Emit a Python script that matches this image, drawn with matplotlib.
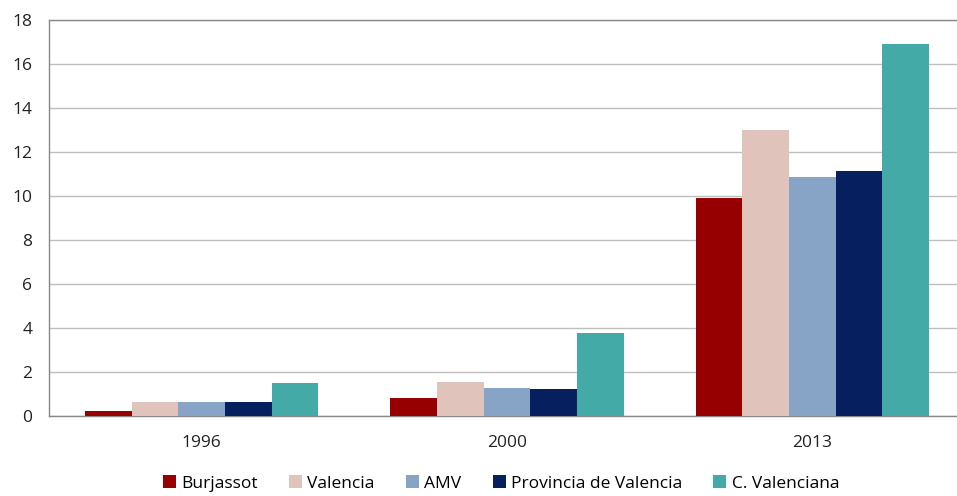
import numpy as np
import matplotlib.pyplot as plt

years = ["1996", "2000", "2013"]
series = ["Burjassot", "Valencia", "AMV", "Provincia de Valencia", "C. Valenciana"]
burjassot = [0.23, 0.82, 9.92]
valencia = [0.64, 1.56, 13.01]
amv = [0.62, 1.26, 10.85]
provincia = [0.64, 1.21, 11.15]
c_valenciana = [1.51, 3.79, 16.91]

values = [burjassot, valencia, amv, provincia, c_valenciana]
colors = ["#960000", "#E0C4BC", "#87A3C5", "#061F5F", "#44AAA8"]

plt.rcParams['font.family'] = ['Open Sans', 'DejaVu Sans']

fig = plt.figure(figsize=(9.57, 4.96), dpi=100)
# right edge of the plot frame is cut off in the reference
ax = fig.add_axes([49 / 957, 80 / 496, 916 / 957, 396 / 496])

x = np.arange(len(years))
w = 0.153
for i, (name, vals, c) in enumerate(zip(series, values, colors)):
    ax.bar(x + (i - 2) * w, vals, width=w, color=c, label=name, zorder=3)

ax.set_xlim(-0.5, 2.5)
ax.set_ylim(0, 18)
ax.set_yticks(range(0, 19, 2))
ax.set_xticks(x)
ax.set_xticklabels(years)
ax.tick_params(axis='both', length=0, labelsize=12.5, colors='#222222')
ax.tick_params(axis='y', pad=12)
ax.tick_params(axis='x', pad=14)
ax.grid(axis='y', color='#BFBFBF', linewidth=1, zorder=0)
for s in ax.spines.values():
    s.set_color('#888888')
    s.set_linewidth(1)

ax.legend(loc='upper center', bbox_to_anchor=(452 / 916, -0.11), ncol=5,
          frameon=False, fontsize=12.5, handlelength=0.75, handleheight=0.75,
          handletextpad=0.3, columnspacing=1.8)

plt.savefig('out.png', dpi=100)
